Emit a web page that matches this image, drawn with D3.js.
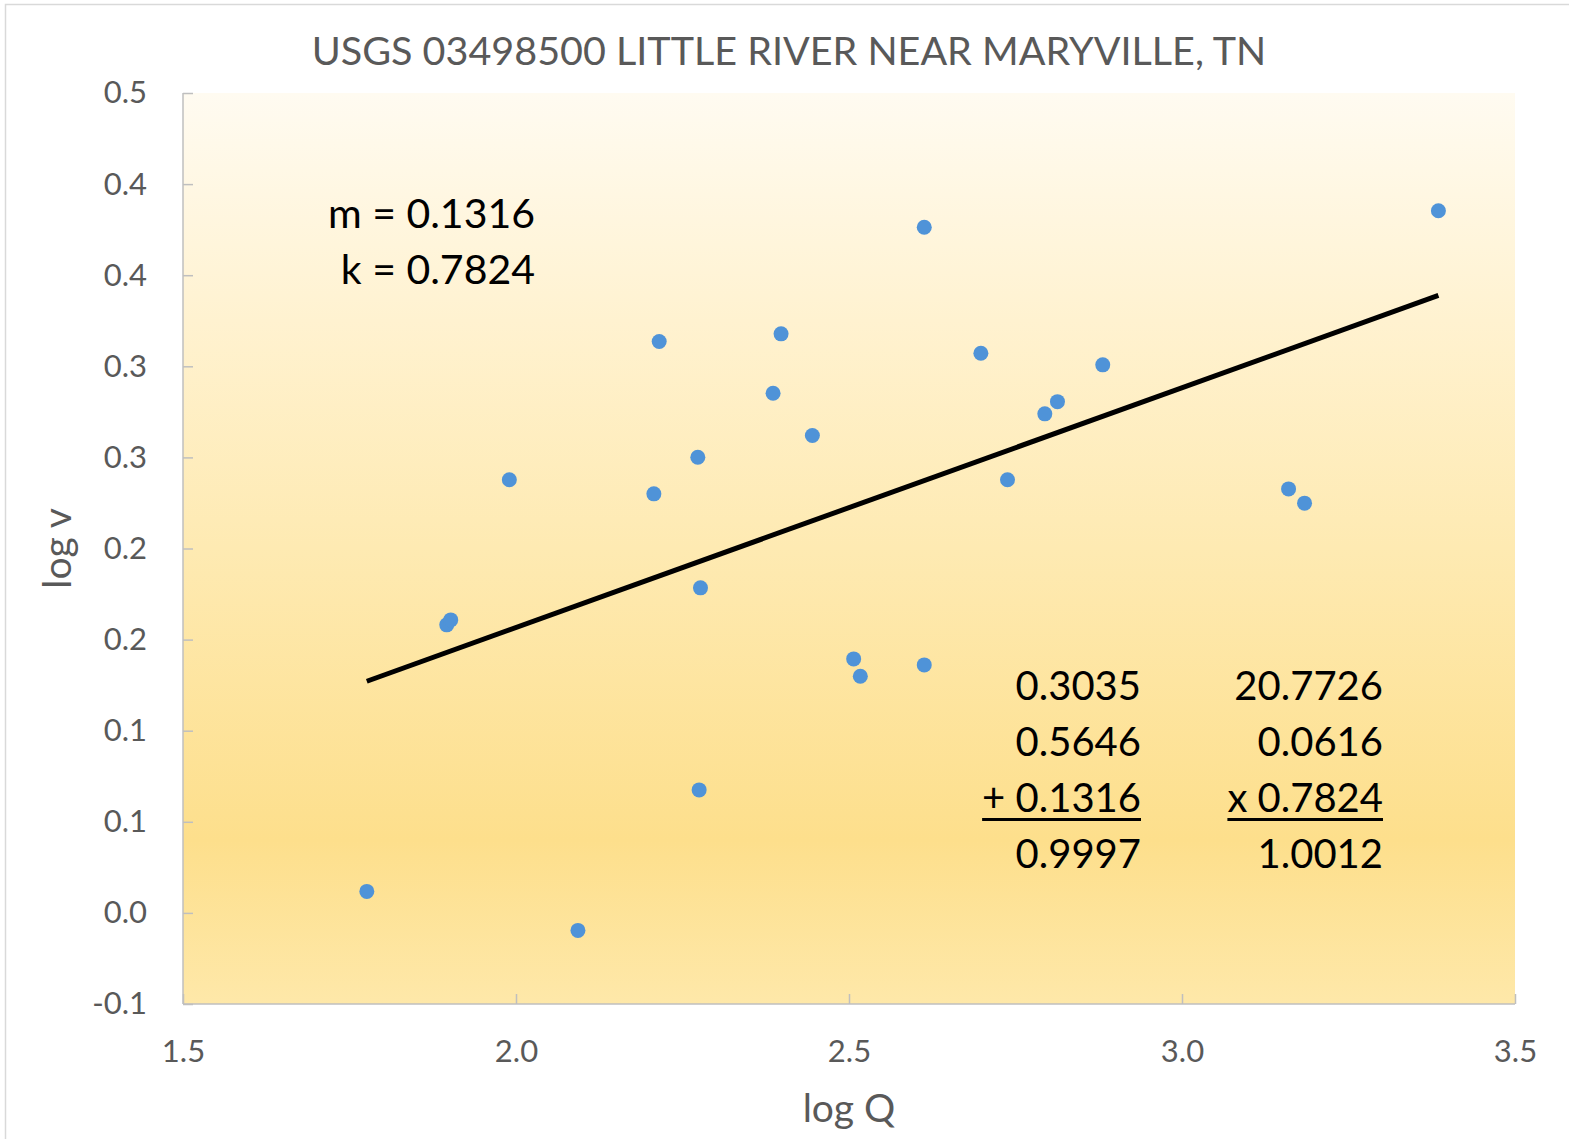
<!DOCTYPE html>
<html>
<head>
<meta charset="utf-8">
<script src="https://cdn.jsdelivr.net/npm/d3@7"></script>
<style>
  html, body { margin: 0; padding: 0; background: #ffffff; }
  svg { display: block; }
</style>
</head>
<body>
<div id="chart"></div>
<script>
// data (log Q, log v)
var logQ = [1.776, 2.093, 1.896, 1.902, 1.990, 2.207, 2.215, 2.273, 2.277, 2.275,
            2.386, 2.398, 2.445, 2.507, 2.517, 2.613, 2.613, 2.698, 2.738, 2.794,
            2.813, 2.881, 3.160, 3.184, 3.385];
var logV = [0.0118, -0.0096, 0.1581, 0.1608, 0.2377, 0.2300, 0.3136, 0.2501, 0.1784, 0.0675,
            0.2852, 0.3178, 0.2620, 0.1394, 0.1299, 0.3763, 0.1361, 0.3072, 0.2377, 0.2739,
            0.2806, 0.3008, 0.2327, 0.2249, 0.3854];

// fitted line log v = m log Q + log k
var slopeM = 0.1316;
var coefK = 0.7824;
var fitLabels = ['m = 0.1316', 'k = 0.7824'];

var sumColumn = ['0.3035', '0.5646', '+ 0.1316', '0.9997'];
var productColumn = ['20.7726', '0.0616', 'x 0.7824', '1.0012'];

var xTicks = [1.5, 2.0, 2.5, 3.0, 3.5];
var xTickLabels = ['1.5', '2.0', '2.5', '3.0', '3.5'];
var yTicks = [-0.05, 0, 0.05, 0.1, 0.15, 0.2, 0.25, 0.3, 0.35, 0.4, 0.45];
var yTickLabels = ['-0.1', '0.0', '0.1', '0.1', '0.2', '0.2', '0.3', '0.3', '0.4', '0.4', '0.5'];

var chartTitle = 'USGS 03498500 LITTLE RIVER NEAR MARYVILLE, TN';
var xTitle = 'log Q';
var yTitle = 'log v';

var width = 1569, height = 1139;
var margin = {top: 93, right: 54, bottom: 135, left: 183};
var font = 'Lato, "Open Sans", sans-serif';
var gray = '#595959';

var svg = d3.select('#chart').append('svg')
  .attr('width', width)
  .attr('height', height);

// chart area frame, runs off the right and bottom edges
svg.append('rect')
  .attr('x', 5.5).attr('y', 4.5)
  .attr('width', width + 20).attr('height', height + 20)
  .attr('fill', '#ffffff')
  .attr('stroke', '#d9d9d9')
  .attr('stroke-width', 1.5);

var defs = svg.append('defs');
var grad = defs.append('linearGradient')
  .attr('id', 'plotFill')
  .attr('x1', 0).attr('y1', 0).attr('x2', 0).attr('y2', 1);
[[0, '#fffbf1'], [0.25, '#fff2d0'], [0.5, '#feeab2'], [0.82, '#fddf8c'], [1, '#fee8a9']]
  .forEach(function(s) {
    grad.append('stop').attr('offset', s[0]).attr('stop-color', s[1]);
  });

var x = d3.scaleLinear().domain([1.5, 3.5]).range([margin.left, width - margin.right]);
var y = d3.scaleLinear().domain([-0.05, 0.45]).range([height - margin.bottom, margin.top]);

svg.append('rect')
  .attr('x', x.range()[0])
  .attr('y', y.range()[1])
  .attr('width', x.range()[1] - x.range()[0])
  .attr('height', y.range()[0] - y.range()[1])
  .attr('fill', 'url(#plotFill)');

// axes, tick marks point inward
var xAxis = svg.append('g')
  .attr('transform', `translate(0,${y.range()[0]})`)
  .call(d3.axisBottom(x)
    .tickValues(xTicks)
    .tickFormat((d, i) => xTickLabels[i])
    .tickSizeInner(-10)
    .tickSizeOuter(0)
    .tickPadding(36));

var yAxis = svg.append('g')
  .attr('transform', `translate(${x.range()[0]},0)`)
  .call(d3.axisLeft(y)
    .tickValues(yTicks)
    .tickFormat((d, i) => yTickLabels[i])
    .tickSizeInner(-10)
    .tickSizeOuter(0)
    .tickPadding(36));

[xAxis, yAxis].forEach(function(ax) {
  ax.select('.domain').attr('stroke', '#bfbfbf').attr('stroke-width', 1.5);
  ax.selectAll('.tick line').attr('stroke', '#bfbfbf').attr('stroke-width', 1.5);
  ax.selectAll('.tick text')
    .attr('fill', gray)
    .style('font-family', font)
    .style('font-size', '31px');
});
yAxis.select('.domain').attr('d', `M0,${y.range()[0]}V${y.range()[1]}`);
xAxis.select('.domain').attr('d', `M${x.range()[0]},0H${x.range()[1]}`);

// trend line over the data range
var qRange = d3.extent(logQ);
var fitLine = d3.line()
  .x(d => x(d))
  .y(d => y(slopeM * d + Math.log10(coefK)));
svg.append('path')
  .attr('d', fitLine(qRange))
  .attr('fill', 'none')
  .attr('stroke', '#000000')
  .attr('stroke-width', 5);

svg.append('g').selectAll('circle')
  .data(d3.zip(logQ, logV))
  .enter().append('circle')
    .attr('cx', d => x(d[0]))
    .attr('cy', d => y(d[1]))
    .attr('r', 7.5)
    .attr('fill', '#4f93d8');

// titles
svg.append('text')
  .attr('x', 789).attr('y', 65)
  .attr('text-anchor', 'middle')
  .attr('fill', gray)
  .style('font-family', font)
  .style('font-size', '39.5px')
  .text(chartTitle);

svg.append('text')
  .attr('x', (x.range()[0] + x.range()[1]) / 2).attr('y', 1122)
  .attr('text-anchor', 'middle')
  .attr('fill', gray)
  .style('font-family', font)
  .style('font-size', '39px')
  .text(xTitle);

svg.append('text')
  .attr('transform', `translate(71,${(y.range()[0] + y.range()[1]) / 2}) rotate(-90)`)
  .attr('text-anchor', 'middle')
  .attr('fill', gray)
  .style('font-family', font)
  .style('font-size', '39px')
  .text(yTitle);

// annotations
svg.append('g').selectAll('text')
  .data(fitLabels)
  .enter().append('text')
    .attr('x', 535)
    .attr('y', (d, i) => 228 + i * 56)
    .attr('text-anchor', 'end')
    .attr('fill', '#000000')
    .style('font-family', font)
    .style('font-size', '41px')
    .text(d => d);

function column(values, rightX) {
  var g = svg.append('g');
  var texts = g.selectAll('text')
    .data(values)
    .enter().append('text')
      .attr('x', rightX)
      .attr('y', (d, i) => 700 + i * 56)
      .attr('text-anchor', 'end')
      .attr('fill', '#000000')
      .style('font-family', font)
      .style('font-size', '40px')
      .text(d => d);
  // underline the third row (the operand)
  var box = texts.nodes()[2].getBBox();
  g.append('line')
    .attr('x1', box.x).attr('x2', box.x + box.width)
    .attr('y1', 700 + 2 * 56 + 7.5).attr('y2', 700 + 2 * 56 + 7.5)
    .attr('stroke', '#000000')
    .attr('stroke-width', 3);
}
column(sumColumn, 1141);
column(productColumn, 1383);
</script>
</body>
</html>
